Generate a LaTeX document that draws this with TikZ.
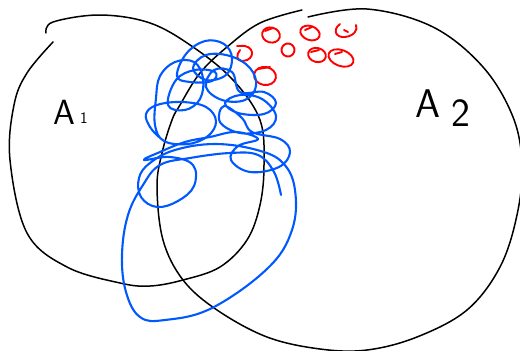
\documentclass[tikz,border=0pt]{standalone}
\usepackage{fontspec}
\definecolor{scrib}{RGB}{0,88,255}
\definecolor{dotred}{RGB}{255,0,0}
\begin{document}
\begin{tikzpicture}[x=1pt,y=-1pt,line cap=round,line join=round,
  outline/.style={draw=black,line width=1.5pt},
  scribble/.style={draw=scrib,line width=2.1pt},
  dotloop/.style={draw=dotred,line width=1.9pt},
  bigletter/.style={font=\sffamily\fontsize{#1}{#1}\selectfont,inner sep=0pt,anchor=base west}]
\useasboundingbox (0,0) rectangle (520,351);

% set A1 (left curve, small gap at the top left)
\draw[outline] plot[smooth,tension=0.6] coordinates {
  (53,42) (27,73) (14,105) (10,160) (27,233) (67,267) (120,283) (150,286)
  (183,280) (220,267) (247,240) (260,205) (264,165) (260,120) (233,80)
  (193,47) (150,23) (100,15) (53,22) (46,33)};

% set A2 (large right curve, small gap at the top)
\draw[outline] plot[smooth,tension=0.6] coordinates {
  (308,17) (367,9) (433,27) (483,67) (513,117) (522,165) (517,215) (500,267)
  (467,310) (417,337) (367,350) (320,349) (267,337) (217,310) (183,280)
  (163,240) (157,187) (162,153) (172,120) (180,105) (200,73) (227,47)
  (260,23) (302,10)};

% labels
\node[bigletter=35] (a1) at (53,124) {A};
\node[bigletter=16] (a1sub) at (80,123) {1};
\node[bigletter=40] (a2) at (415,117) {A};
\node[bigletter=40] (a2sub) at (451,126) {2};

% red points in A2 only
\draw[dotloop,rotate around={-15:(271,35)}] (271,35) ellipse (9 and 7.5);
\draw[dotloop] (265,31) -- (273,28);
\draw[dotloop] (240,46) .. controls (255,44) and (256,60) .. (243,61) .. controls (236,61) and (236,55) .. (240,50);
\draw[dotloop] (237,46) -- (243,46);
\draw[dotloop,rotate around={-10:(288,50)}] (288,50) ellipse (6.5 and 6.5);
\draw[dotloop,rotate around={-20:(310,33)}] (310,33) ellipse (10 and 7);
\draw[dotloop] (305,30) -- (312,27);
\draw[dotloop] (340,24) .. controls (332,30) and (336,38) .. (345,37) .. controls (354,36) and (358,30) .. (356,25);
\draw[dotloop] (344,30) -- (348,32);
\draw[dotloop,rotate around={-15:(317,55)}] (317,55) ellipse (9 and 7);
\draw[dotloop] (311,52) -- (319,50);
\draw[dotloop,rotate around={-20:(341,58)}] (341,58) ellipse (13 and 8);
\draw[dotloop] (335,54) -- (342,52);
\draw[dotloop,rotate around={-10:(265,76)}] (265,76) ellipse (11 and 9);
\draw[dotloop] (258,69) -- (270,67);

% blue scribble across the overlap
\draw[scribble] plot[smooth,tension=0.65] coordinates {
  (159,137) (150,127) (146,114) (157,105) (182,102) (206,107) (216,121)
  (208,136) (188,144) (164,141) (155,125)
  (156,98) (160,76) (175,62) (194,62) (203,78) (200,99) (185,110) (168,105)
  (176,80) (195,70) (215,72) (212,81) (190,82) (177,76)
  (186,54) (205,41) (224,44) (232,58) (226,75) (206,80) (193,68)
  (206,55) (230,56) (250,68) (256,86) (245,100) (222,100) (206,87) (214,70)
  (232,72) (240,92) (264,92) (276,103) (264,114) (238,113) (225,103)
  (240,95) (262,99) (276,116) (266,130) (240,133) (220,122) (224,106)
  (242,118) (252,132) (280,139) (290,152) (279,167) (250,172) (231,160)
  (238,146) (258,139)
  (236,132) (210,137) (185,142) (160,152)
  (144,160) (170,157) (193,165) (194,186) (178,201) (157,207) (141,197)
  (139,178) (150,163)
  (175,150) (215,144) (257,150) (283,163) (295,190) (292,230) (268,268)
  (212,308) (165,320) (140,317) (126,292) (122,255) (128,215) (143,185)
  (160,165) (190,158) (230,153) (258,155) (274,172) (281,195)};
\end{tikzpicture}
\end{document}
